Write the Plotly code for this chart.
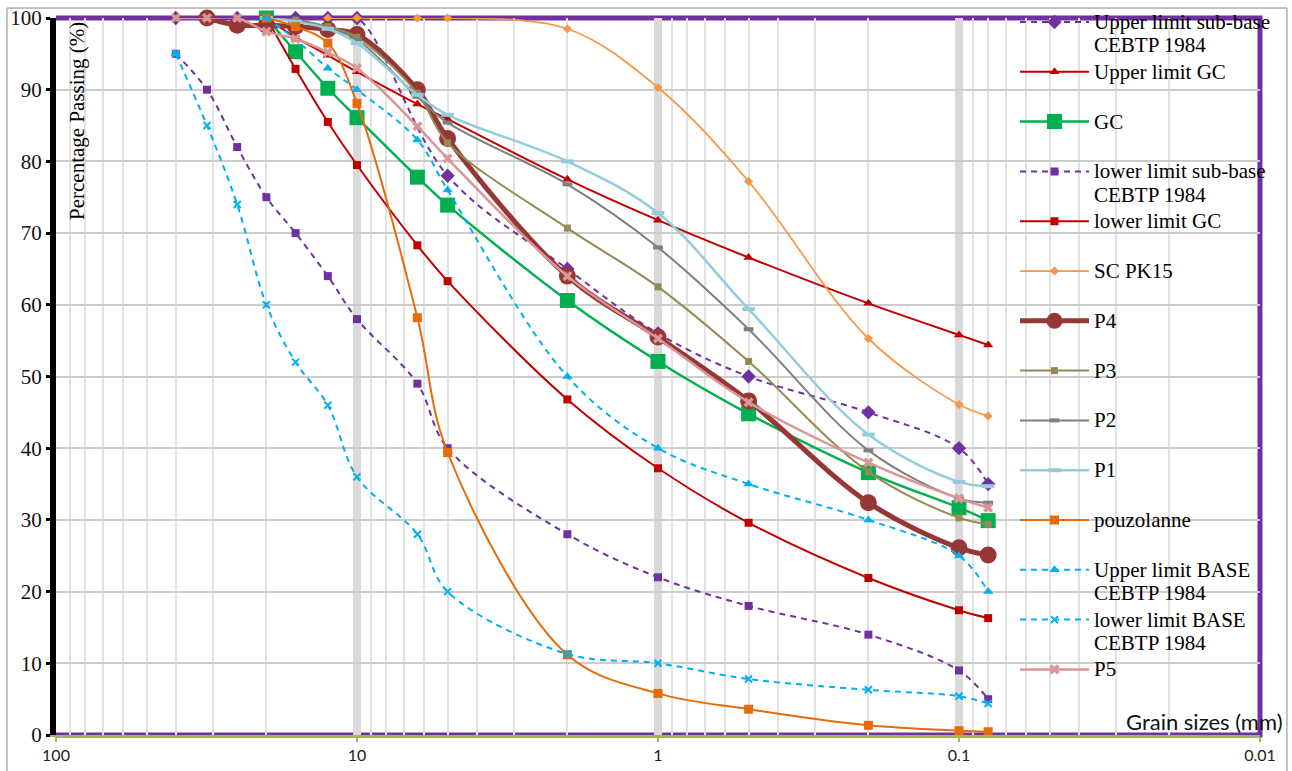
import plotly.graph_objects as go

# Sieve openings (mm) shared by every grading curve
SIEVES_MM = [40, 31.5, 25, 20, 16, 12.5, 10, 6.3, 5, 2, 1, 0.5, 0.2, 0.1, 0.08]

# Percentage passing for each sieve (None = not measured)
UPPER_SUBBASE = [100, 100, 100, 100, 100, 100, 100, None, 78, 65, 56, 50, 45, 40, 35]
UPPER_GC = [None, None, None, 100, 97.3, 94.8, 92.5, 88.0, 85.9, 77.5, 71.8, 66.6, 60.2, 55.8, 54.4]
GC = [None, None, None, 100, 95.3, 90.2, 86.1, 77.8, 73.9, 60.6, 52.1, 44.8, 36.6, 31.7, 29.9]
LOWER_SUBBASE = [95, 90, 82, 75, 70, 64, 58, 49, 40, 28, 22, 18, 14, 9, 5]
LOWER_GC = [None, None, None, 100, 92.9, 85.5, 79.5, 68.3, 63.3, 46.8, 37.2, 29.6, 21.9, 17.4, 16.3]
SC_PK15 = [None, None, None, None, None, 100, 100, 100, 100, 98.5, 90.3, 77.2, 55.3, 46.1, 44.5]
P4 = [None, 100, 99.0, 99.0, 98.8, 98.4, 97.7, 90.0, 83.2, 64.0, 55.5, 46.6, 32.4, 26.1, 25.1]
P3 = [None, None, None, 100, 99.7, 98.8, 97.3, 89.5, 82.6, 70.7, 62.5, 52.1, 36.7, 30.3, 29.4]
P2 = [None, None, None, 100, 99.6, 98.6, 97.0, 89.0, 85.4, 76.8, 68.0, 56.6, 39.7, 33.0, 32.4]
P1 = [None, None, None, 100, 99.5, 98.5, 96.5, 89.3, 86.5, 80.0, 72.8, 59.4, 41.9, 35.3, 34.7]
POUZOLANNE = [None, None, None, 100, 98.8, 96.5, 88.1, 58.2, 39.4, 11.2, 5.8, 3.6, 1.35, 0.6, 0.45]
UPPER_BASE = [95, None, None, 100, 97, 93, 90, 83, 76, 50, 40, 35, 30, 25, 20]
LOWER_BASE = [95, 85, 74, 60, 52, 46, 36, 28, 20, 11.3, 10, 7.8, 6.3, 5.4, 4.4]
P5 = [100, 100, 100, 98.1, 97.1, 95.2, 93.0, 84.9, 80.4, 64.0, 55.3, 46.4, 38.0, 33.0, 31.7]

# Axis tick labels
X_TICKS = [100, 10, 1, 0.1, 0.01]
X_TICK_TEXT = ["100", "10", "1", "0.1", "0.01"]
X_MINOR = [k * 10.0 ** e for e in range(-2, 2) for k in range(2, 10)]

SERIF = "Liberation Serif, Tinos, Times New Roman, DejaVu Serif, serif"
SANS = "Lato, Carlito, Calibri, Open Sans, sans-serif"


def legend_label(*lines):
    """Two-line legend text, drawn a little larger than the row spacing font."""
    rows = list(lines) + ["\u00a0"] * (2 - len(lines))
    return "<br>".join('<span style="font-size:21px">%s</span>' % r for r in rows)


# (legend name, values, colour, dash, line width, marker symbol, marker size, connect gaps)
SERIES = [
    (legend_label("Upper limit sub-base", "CEBTP 1984"), UPPER_SUBBASE, "#7030a0", "6px,5px", 2, "diamond", 11, True),
    (legend_label("Upper limit GC"), UPPER_GC, "#c00000", "solid", 2, "triangle-up", 9, False),
    (legend_label("GC"), GC, "#00b050", "solid", 2.5, "square", 15, False),
    (legend_label("lower limit sub-base", "CEBTP 1984"), LOWER_SUBBASE, "#7030a0", "6px,5px", 2, "square", 8, False),
    (legend_label("lower limit GC"), LOWER_GC, "#c00000", "solid", 2, "square", 8, False),
    (legend_label("SC PK15"), SC_PK15, "#f79646", "solid", 1.75, "diamond", 7, False),
    (legend_label("P4"), P4, "#953735", "solid", 5, "circle", 17, False),
    (legend_label("P3"), P3, "#948a54", "solid", 2, "square", 7, False),
    (legend_label("P2"), P2, "#7f7f7f", "solid", 2, "line-ew", 7, False),
    (legend_label("P1"), P1, "#93cddd", "solid", 2.5, "line-ew", 9, False),
    (legend_label("pouzolanne"), POUZOLANNE, "#e46c0a", "solid", 2, "square", 9, False),
    (legend_label("Upper limit BASE", "CEBTP 1984"), UPPER_BASE, "#00b0f0", "6px,5px", 2, "triangle-up", 9, False),
    (legend_label("lower limit BASE", "CEBTP 1984"), LOWER_BASE, "#00b0f0", "6px,5px", 2, "x-thin", 7, False),
    (legend_label("P5"), P5, "#d99694", "solid", 2.5, "x", 9, False),
]

fig = go.Figure()
for name, values, color, dash, width, symbol, msize, gaps in SERIES:
    marker = dict(symbol=symbol, size=msize, color=color)
    if symbol in ("line-ew", "x-thin"):
        marker["line"] = dict(color=color, width=4 if symbol == "line-ew" else 2)
    fig.add_trace(go.Scatter(
        x=SIEVES_MM, y=values, name=name, mode="lines+markers",
        line=dict(color=color, width=width, dash=dash, shape="spline", smoothing=1),
        marker=marker, connectgaps=gaps, cliponaxis=False,
    ))

fig.update_layout(
    width=1292, height=771,
    margin=dict(l=56, r=32, t=18, b=36, autoexpand=False),
    paper_bgcolor="white", plot_bgcolor="white",
    font=dict(family=SERIF, size=18, color="#000000"),
    showlegend=True,
    legend=dict(
        x=0.7965, xanchor="left", y=1.0198, yanchor="top",
        bgcolor="rgba(0,0,0,0)", itemwidth=69, valign="top",
        font=dict(family=SERIF, size=18, color="#000000"),
        tracegroupgap=0, maxheight=765,
    ),
    xaxis=dict(
        type="log", range=[2, -2],
        tickmode="array", tickvals=X_TICKS, ticktext=X_TICK_TEXT,
        showgrid=True, gridcolor="#d9d9d9", gridwidth=8,
        showline=True, linecolor="#9bbb59", linewidth=1.5,
        ticks="outside", ticklen=5, tickwidth=1.5, tickcolor="#9bbb59",
        tickfont=dict(family=SANS, size=16, color="#222222"),
        minor=dict(tickmode="array", tickvals=X_MINOR, showgrid=True,
                   gridcolor="#e2e2e2", gridwidth=1.5, ticks=""),
        zeroline=False,
    ),
    yaxis=dict(
        range=[0, 100], tick0=0, dtick=10,
        showgrid=True, gridcolor="#cccccc", gridwidth=1.5,
        showline=True, linecolor="#000000", linewidth=6,
        ticks="outside", ticklen=4, tickwidth=3, tickcolor="#000000",
        tickfont=dict(family=SERIF, size=21, color="#111111"),
        zeroline=False,
    ),
    shapes=[
        # thin outer chart border
        dict(type="rect", xref="paper", yref="paper", x0=-0.0407, x1=1.0224,
             y0=-0.0558, y1=1.0139, line=dict(color="#8a8a8a", width=1), layer="below"),
        # purple plot-area frame (top, right, bottom)
        dict(type="path", xref="paper", yref="paper", path="M0,1 L1,1 L1,0 L0,0",
             line=dict(color="#7030a0", width=5), layer="between"),
    ],
    annotations=[
        dict(text="Percentage Passing (%)", xref="paper", yref="paper",
             x=0.0174, y=0.8563, xanchor="center", yanchor="middle",
             textangle=-90, showarrow=False,
             font=dict(family=SERIF, size=21, color="#000000")),
        dict(text="Grain sizes (mm)", xref="paper", yref="paper",
             x=1.0208, y=0.0195, xanchor="right", yanchor="middle",
             showarrow=False, font=dict(family=SANS, size=22, color="#111111")),
    ],
)

fig.write_html("out.html")
